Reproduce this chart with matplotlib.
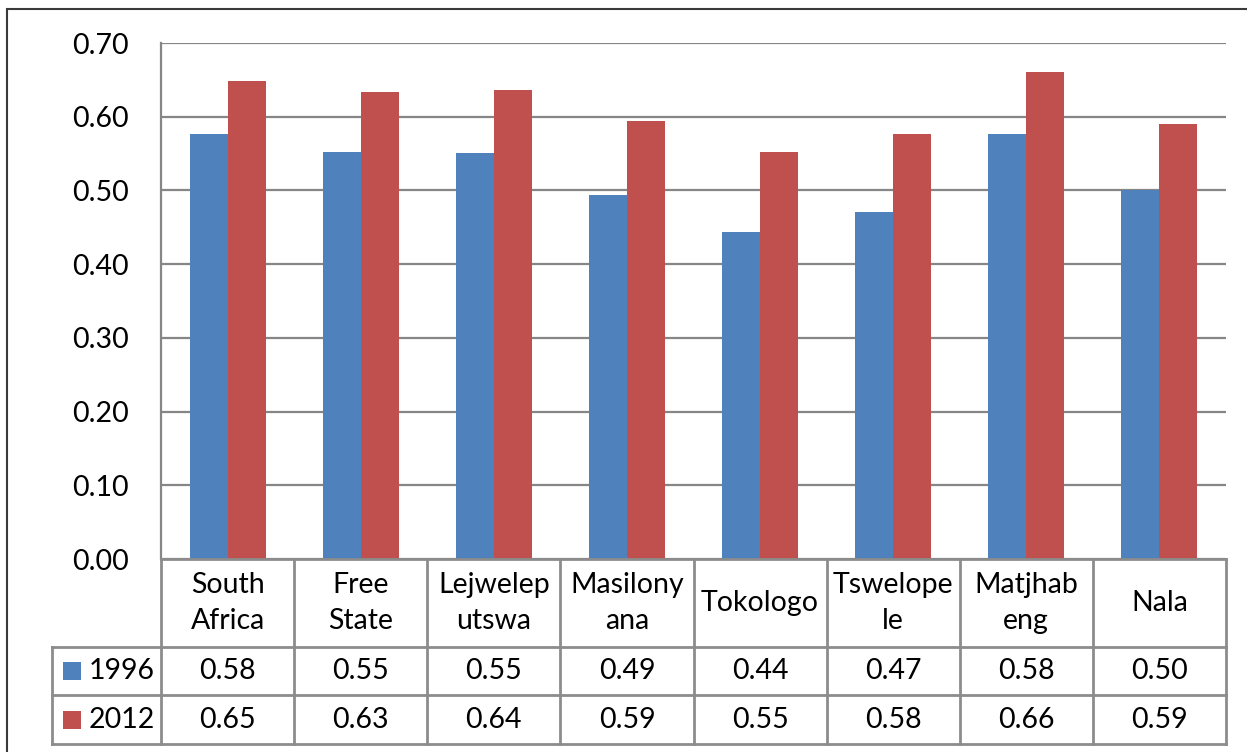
import numpy as np
import matplotlib
matplotlib.use("Agg")
import matplotlib.pyplot as plt
from matplotlib.patches import Rectangle
from matplotlib.lines import Line2D
import matplotlib.transforms as mtransforms

categories = ["South\nAfrica", "Free\nState", "Lejwelep\nutswa", "Masilony\nana",
              "Tokologo", "Tswelope\nle", "Matjhab\neng", "Nala"]
series_names = ["1996", "2012"]
values_1996 = [0.577, 0.552, 0.551, 0.494, 0.444, 0.471, 0.577, 0.501]
values_2012 = [0.649, 0.634, 0.636, 0.594, 0.552, 0.576, 0.661, 0.590]
table_1996 = ["0.58", "0.55", "0.55", "0.49", "0.44", "0.47", "0.58", "0.50"]
table_2012 = ["0.65", "0.63", "0.64", "0.59", "0.55", "0.58", "0.66", "0.59"]
yticks = [0.0, 0.1, 0.2, 0.3, 0.4, 0.5, 0.6, 0.7]

BLUE = "#4F81BD"
RED = "#C0504D"
GRID = "#868686"
FONT = "Lato"
FS = 20.5

W, H = 1247, 752
fig = plt.figure(figsize=(W / 100, H / 100), dpi=100)
fig.patch.set_facecolor("white")

# outer chart border
fig.patches.append(Rectangle((7 / W, -0.1), 1.2, 1 - 9 / H + 0.1, transform=fig.transFigure,
                             fill=False, edgecolor="#3a3a3a", linewidth=1.5))

ax = fig.add_axes([161 / W, 1 - 559 / H, 1065 / W, 516 / H])
x = np.arange(len(categories))
w = 0.285
ax.bar(x - w / 2, values_1996, w, color=BLUE, zorder=3)
ax.bar(x + w / 2, values_2012, w, color=RED, zorder=3)
ax.set_xlim(-0.5, len(categories) - 0.5)
ax.set_ylim(0, 0.7)
ax.set_yticks(yticks)
ax.set_yticklabels([f"{v:.2f}" for v in yticks], fontfamily=FONT, fontsize=FS)
ax.set_xticks([])
ax.tick_params(axis="y", length=0, pad=23)
ax.yaxis.grid(True, color=GRID, linewidth=1.6, zorder=0)
ax.set_axisbelow(True)
for s in ["top", "right", "bottom"]:
    ax.spines[s].set_visible(False)
ax.spines["left"].set_color(GRID)
ax.spines["left"].set_linewidth(1.6)

# data table
blend = mtransforms.blended_transform_factory(ax.transData, ax.transAxes)
tA = ax.transAxes
y_head = -88 / 516
y_r1 = -136 / 516
y_r2 = -185 / 516
x_left = -109 / 1065
lc = "#8c8c8c"
lw = 2.0

def line(xs, ys, tr):
    ax.add_line(Line2D(xs, ys, transform=tr, color=lc, linewidth=lw, clip_on=False, zorder=4))

for i in range(len(categories) + 1):
    line([i - 0.5, i - 0.5], [0, y_r2], blend)
line([x_left, x_left], [y_head, y_r2], tA)
line([0, 1], [0, 0], tA)
for yy in (y_head, y_r1, y_r2):
    line([x_left, 1], [yy, yy], tA)

for i, c in enumerate(categories):
    ax.text(i, y_head / 2, c, transform=blend, ha="center", va="center",
            fontfamily=FONT, fontsize=FS, linespacing=1.5)
    ax.text(i, (y_head + y_r1) / 2, table_1996[i], transform=blend, ha="center",
            va="center", fontfamily=FONT, fontsize=FS)
    ax.text(i, (y_r1 + y_r2) / 2, table_2012[i], transform=blend, ha="center",
            va="center", fontfamily=FONT, fontsize=FS)

sq_w = 18 / 1065
sq_h = 18 / 516
for name, col, (ya, yb) in zip(series_names, [BLUE, RED], [(y_head, y_r1), (y_r1, y_r2)]):
    yc = (ya + yb) / 2
    ax.add_patch(Rectangle((-98 / 1065, yc - sq_h / 2), sq_w, sq_h, transform=tA,
                           facecolor=col, edgecolor="none", clip_on=False))
    ax.text(-72 / 1065, yc, name, transform=tA, ha="left", va="center",
            fontfamily=FONT, fontsize=FS)

fig.savefig("out.png", dpi=100)
